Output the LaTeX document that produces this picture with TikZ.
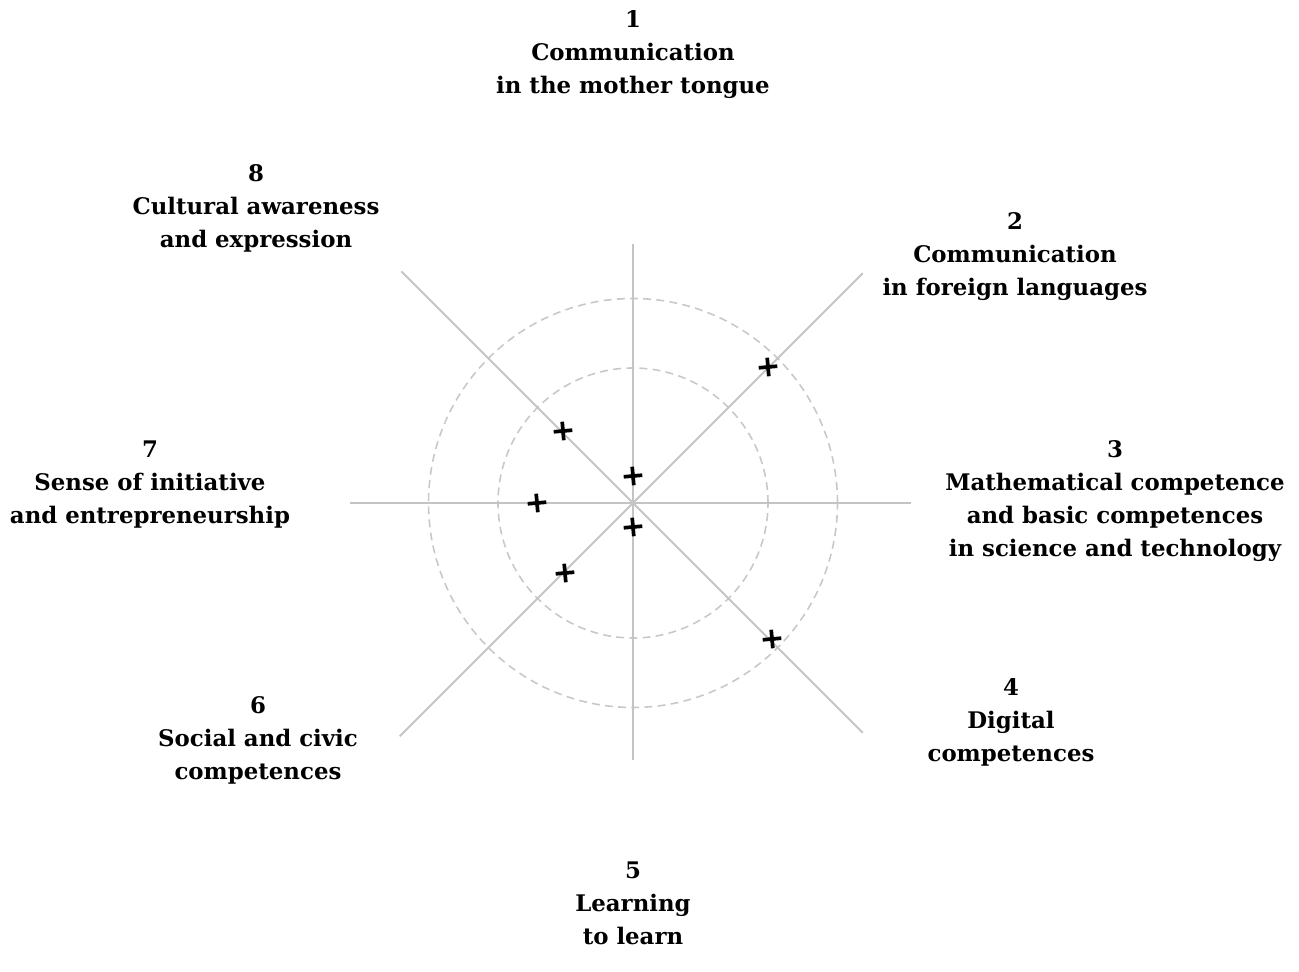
\documentclass[tikz,border=0pt]{standalone}
\usepackage{fontspec}
\setmainfont{DejaVu Serif}
\usetikzlibrary{shapes.misc}
\definecolor{axisgray}{RGB}{196,196,196}
\definecolor{ringgray}{RGB}{200,200,200}
\begin{document}
\begin{tikzpicture}[
		axis/.style={draw=axisgray, line width=1.1pt},
		ring/.style={draw=ringgray, line width=0.9pt, dash pattern=on 4.5pt off 3pt},
		hit/.style={draw=black, cross out, line width=2.1pt, minimum size=0.19cm, inner sep=0pt, rotate=50},
		compet/.style={align=center, font=\fontsize{13}{18.8}\selectfont\bfseries}
	]
		\useasboundingbox (-12.66,-9.38) rectangle (13.32,10.06);

		% Rings
		\draw[ring] (0,0) circle (4.09);
		\draw[ring] (0,0) circle (2.7);

		% Axes
		\coordinate (o) at (0,0);
		\coordinate (a1) at (0,5.18);
		\coordinate (a2) at (45:6.5);
		\coordinate (a3) at (5.56,0);
		\coordinate (a4) at (-45:6.5);
		\coordinate (a5) at (0,-5.14);
		\coordinate (a6) at (-135:6.6);
		\coordinate (a7) at (-5.66,0);
		\coordinate (a8) at (135:6.55);
		\draw[axis] (o) -- (a1);
		\draw[axis] (o) -- (a2);
		\draw[axis] (o) -- (a3);
		\draw[axis] (o) -- (a4);
		\draw[axis] (o) -- (a5);
		\draw[axis] (o) -- (a6);
		\draw[axis] (o) -- (a7);
		\draw[axis] (o) -- (a8);

		% Scores
		\node[hit] (m1) at (0,0.54) {};
		\node[hit] (m2) at (2.70,2.72) {};
		\node[hit] (m4) at (2.78,-2.72) {};
		\node[hit] (m5) at (0,-0.48) {};
		\node[hit] (m6) at (-1.36,-1.40) {};
		\node[hit] (m7) at (-1.92,0) {};
		\node[hit] (m8) at (-1.40,1.44) {};

		% Competences
		\node[compet] (l1) at (0,8.96) {1\\Communication\\in the mother tongue};
		\node[compet] (l2) at (7.64,4.92) {2\\Communication\\in foreign languages};
		\node[compet] (l3) at (9.64,0.04) {3\\Mathematical competence\\and basic competences\\in science and technology};
		\node[compet] (l4) at (7.56,-4.38) {4\\Digital\\competences};
		\node[compet] (l5) at (0,-8.0) {5\\Learning\\to learn};
		\node[compet] (l6) at (-7.5,-4.74) {6\\Social and civic\\competences};
		\node[compet] (l7) at (-9.66,0.36) {7\\Sense of initiative\\and entrepreneurship};
		\node[compet] (l8) at (-7.54,5.9) {8\\Cultural awareness\\and expression};
	\end{tikzpicture}
\end{document}
